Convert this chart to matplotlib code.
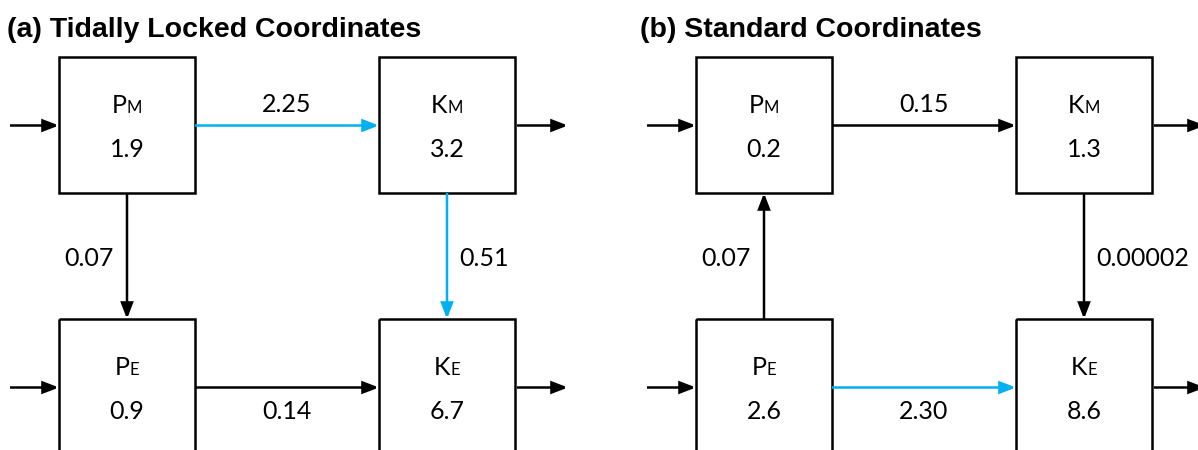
import matplotlib
matplotlib.use("Agg")
import matplotlib.pyplot as plt
from matplotlib.patches import Rectangle, FancyArrowPatch, ArrowStyle

# ---------------- data ----------------
panel_titles = ["(a) Tidally Locked Coordinates", "(b) Standard Coordinates"]
reservoir_main = ["P", "K", "P", "K"]          # PM, KM, PE, KE
reservoir_sub = ["M", "M", "E", "E"]
reservoir_a = ["1.9", "3.2", "0.9", "6.7"]
reservoir_b = ["0.2", "1.3", "2.6", "8.6"]

# conversion: (from, to, value, highlighted)
conv_a = [(0, 1, "2.25", True), (0, 2, "0.07", False),
          (1, 3, "0.51", True), (2, 3, "0.14", False)]
conv_b = [(0, 1, "0.15", False), (2, 0, "0.07", False),
          (1, 3, "0.00002", False), (2, 3, "2.30", True)]

# ---------------- layout ----------------
W, H = 1198, 450
fig = plt.figure(figsize=(W / 100, H / 100), dpi=100)
ax = fig.add_axes([0, 0, 1, 1])
ax.set_xlim(0, W)
ax.set_ylim(H, 0)
ax.axis("off")

BLUE = "#00B0F0"
BLACK = "#000000"
LW = 1.8
BODY_FONT = "Lato"
FS = 18
FS_SUB = 12
BW, BH = 136, 136
panel_x = [59, 696]
title_x = [7, 640]
col_dx = [0, 320]
row_y = [57, 319]
ARROW_DY = 68.5

style = ArrowStyle("-|>", head_length=0.94, head_width=0.36)


def arrow(x0, y0, x1, y1, color):
    ax.add_patch(FancyArrowPatch((x0, y0), (x1, y1), arrowstyle=style,
                                 mutation_scale=10, color=color, lw=LW,
                                 shrinkA=0, shrinkB=0, joinstyle="miter",
                                 capstyle="butt"))


fig.canvas.draw()
renderer = fig.canvas.get_renderer()


def sub_label(cx, y, main, sub):
    t1 = ax.text(0, y, main, fontsize=FS, family=BODY_FONT, ha="left", va="baseline")
    t2 = ax.text(0, y, sub, fontsize=FS_SUB, family=BODY_FONT, ha="left", va="baseline")
    w1 = t1.get_window_extent(renderer).width
    w2 = t2.get_window_extent(renderer).width
    x0 = cx - (w1 + w2) / 2
    t1.set_x(x0)
    t2.set_x(x0 + w1)


for p in range(2):
    px = panel_x[p]
    vals = reservoir_a if p == 0 else reservoir_b
    convs = conv_a if p == 0 else conv_b
    ax.text(title_x[p], 37, panel_titles[p], fontsize=20.5, fontweight="bold",
            family="Liberation Sans", ha="left", va="baseline")
    boxes = []
    for i in range(4):
        r, c = i // 2, i % 2
        x0 = px + col_dx[c]
        y0 = row_y[r]
        boxes.append((x0, y0))
        ax.add_patch(Rectangle((x0, y0), BW, BH, fill=False, ec=BLACK, lw=LW,
                               joinstyle="miter"))
        cx = x0 + BW / 2
        sub_label(cx, y0 + 56, reservoir_main[i], reservoir_sub[i])
        ax.text(cx, y0 + 100, vals[i], fontsize=FS, family=BODY_FONT,
                ha="center", va="baseline")
        cy = y0 + ARROW_DY
        if c == 0:
            arrow(x0 - 49, cy, x0, cy, BLACK)
        else:
            arrow(x0 + BW + 2, cy, x0 + BW + 53, cy, BLACK)
    for (a, b, v, hl) in convs:
        col = BLUE if hl else BLACK
        ra, ca = a // 2, a % 2
        rb, cb = b // 2, b % 2
        xa, ya = boxes[a]
        xb, yb = boxes[b]
        if ra == rb:  # horizontal
            cy = ya + ARROW_DY
            arrow(xa + BW, cy, xb, cy, col)
            ly = ya + 55 if ra == 0 else ya + 100
            ax.text((xa + BW + xb) / 2, ly, v, fontsize=FS, family=BODY_FONT,
                    ha="center", va="baseline")
        else:  # vertical
            cx = xa + BW / 2
            if ya < yb:
                arrow(cx, ya + BH, cx, yb, col)
            else:
                arrow(cx, ya, cx, yb + BH, col)
            if ca == 0:
                ax.text(cx - 13, 266, v, fontsize=FS, family=BODY_FONT,
                        ha="right", va="baseline")
            else:
                ax.text(cx + 12, 266, v, fontsize=FS, family=BODY_FONT,
                        ha="left", va="baseline")

fig.savefig("out.png", dpi=100)
